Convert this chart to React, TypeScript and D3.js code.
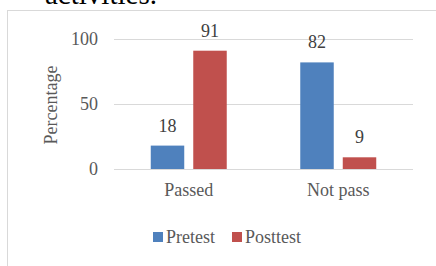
import * as d3 from 'd3';
import { useEffect, useRef } from 'react';

// chart data
const categories = ['Passed', 'Not pass'];
const seriesNames = ['Pretest', 'Posttest'];
const pretest = [18, 82];
const posttest = [91, 9];
const yTicks = [0, 50, 100];

const colors = ['#4F81BD', '#C0504D'];

const App = () => {
    const ref = useRef<SVGSVGElement | null>(null);

    useEffect(() => {
        drawChart();
    }, []);

    const drawChart = () => {
        const width = 436;
        const height = 266;
        const font = '"Liberation Serif", "Times New Roman", serif';

        const svg = d3.select(ref.current);
        svg.selectAll('*').remove();

        // caption text from the page above, cut off at the top
        svg.append('text')
            .attr('x', 45)
            .attr('y', 4)
            .style('font-family', font)
            .style('font-size', '29px')
            .attr('fill', '#000')
            .text('activities.');

        // chart area border
        svg.append('rect')
            .attr('x', 7.5)
            .attr('y', 10.5)
            .attr('width', width + 20)
            .attr('height', height + 20)
            .attr('fill', 'white')
            .attr('stroke', '#D9D9D9')
            .attr('stroke-width', 1);

        // scales
        const x0 = d3.scaleBand()
            .domain(categories)
            .range([114, 413])
            .padding(0);

        const x1 = d3.scaleBand()
            .domain(seriesNames)
            .range([0, x0.bandwidth()])
            .paddingInner(0.212)
            .paddingOuter(0.865);

        const y = d3.scaleLinear()
            .domain([0, 100])
            .range([169, 39]);

        // gridlines
        svg.append('g')
            .selectAll('line')
            .data(yTicks)
            .enter().append('line')
            .attr('x1', 114)
            .attr('x2', 413)
            .attr('y1', d => Math.round(y(d)) + 0.5)
            .attr('y2', d => Math.round(y(d)) + 0.5)
            .attr('stroke', '#D9D9D9')
            .attr('stroke-width', 1);

        // y tick labels
        svg.append('g')
            .selectAll('text')
            .data(yTicks)
            .enter().append('text')
            .attr('x', 98)
            .attr('y', d => y(d) + 6)
            .attr('text-anchor', 'end')
            .style('font-family', font)
            .style('font-size', '18px')
            .attr('fill', '#595959')
            .text(d => d);

        // y axis title
        svg.append('text')
            .attr('transform', 'translate(57,105) rotate(-90)')
            .attr('text-anchor', 'middle')
            .style('font-family', font)
            .style('font-size', '18px')
            .attr('fill', '#595959')
            .text('Percentage');

        // bars
        const rows = categories.map((c, i) => ({
            cat: c,
            vals: [
                { name: seriesNames[0], val: pretest[i] },
                { name: seriesNames[1], val: posttest[i] },
            ],
        }));

        const groups = svg.append('g')
            .selectAll('g')
            .data(rows)
            .enter().append('g')
            .attr('transform', d => `translate(${x0(d.cat)},0)`);

        groups.selectAll('rect')
            .data(d => d.vals)
            .enter().append('rect')
            .attr('x', d => x1(d.name)!)
            .attr('y', d => y(d.val))
            .attr('width', x1.bandwidth())
            .attr('height', d => y(0) - y(d.val))
            .attr('fill', (d, i) => colors[i]);

        // data labels
        groups.selectAll('text')
            .data(d => d.vals)
            .enter().append('text')
            .attr('x', d => x1(d.name)! + x1.bandwidth() / 2)
            .attr('y', d => y(d.val) - 14)
            .attr('text-anchor', 'middle')
            .style('font-family', font)
            .style('font-size', '18px')
            .attr('fill', '#404040')
            .text(d => d.val);

        // x category labels
        svg.append('g')
            .selectAll('text')
            .data(categories)
            .enter().append('text')
            .attr('x', d => x0(d)! + x0.bandwidth() / 2)
            .attr('y', 196)
            .attr('text-anchor', 'middle')
            .style('font-family', font)
            .style('font-size', '18px')
            .attr('fill', '#595959')
            .text(d => d);

        // legend
        const legendX = [153, 232];
        const legend = svg.append('g')
            .selectAll('g')
            .data(seriesNames)
            .enter().append('g')
            .attr('transform', (d, i) => `translate(${legendX[i]},232)`);

        legend.append('rect')
            .attr('width', 10)
            .attr('height', 10)
            .attr('fill', (d, i) => colors[i]);

        legend.append('text')
            .attr('x', 13)
            .attr('y', 11)
            .style('font-family', font)
            .style('font-size', '18px')
            .attr('fill', '#595959')
            .text(d => d);
    };

    return (
        <svg
            ref={ref}
            width={436}
            height={266}
            style={{ position: 'absolute', left: 0, top: 0, background: 'white' }}
        />
    );
};

export default App;
